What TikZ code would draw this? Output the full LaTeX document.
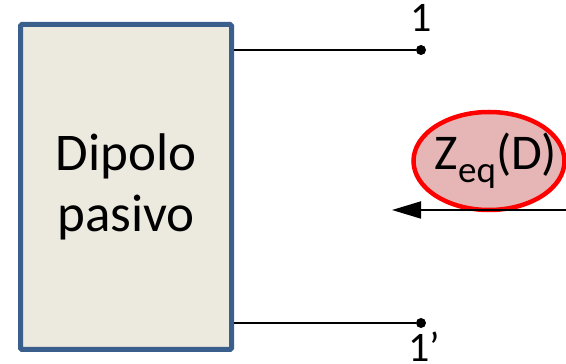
\documentclass[tikz,border=0pt]{standalone}
\usepackage{fontspec}
\setmainfont{Carlito}
\usetikzlibrary{shapes.geometric,arrows.meta}
\definecolor{boxblue}{HTML}{3A5F8C}
\definecolor{boxfill}{HTML}{ECE9DF}
\definecolor{ellred}{HTML}{FF0000}
\definecolor{ellfill}{HTML}{E6B5B5}
\tikzset{
  wire/.style={line width=1.8pt, black},
  terminal/.style={circle, fill=black, inner sep=0pt, minimum size=10pt},
  termlabel/.style={font=\fontsize{42}{46}\selectfont, inner sep=0pt},
}
\begin{document}
\begin{tikzpicture}[x=1pt,y=1pt]
\useasboundingbox (0,0) rectangle (566,364);
\node[draw=boxblue, fill=boxfill, line width=5pt, minimum width=211pt, minimum height=325pt,
  rounded corners=1.5pt, align=center, inner sep=0pt,
  font=\fontsize{53}{62}\selectfont] (box) at (126,177) {Dipolo\\[-1pt]pasivo};
\node[terminal] (t1) at (421,314) {};
\node[terminal] (t2) at (421,41) {};
\draw[wire] (box.east |- t1) -- (t1);
\draw[wire] (box.east |- t2) -- (t2);
\node[termlabel, anchor=base] (l1) at (421,332) {1};
\node[termlabel, anchor=base] (l2) at (424,2.5) {1’};
\path[draw=ellred, fill=ellfill, line width=4.5pt] (489,203) ellipse [x radius=75.5pt, y radius=49pt];
\node[inner sep=0pt, font=\fontsize{50}{54}\selectfont] (z) at (496,203)
  {Z\raisebox{-13pt}{\fontsize{37}{40}\selectfont eq}(D)};
\coordinate (as) at (566,154);
\coordinate (ae) at (392,154);
\draw[wire, -{Triangle[length=29pt, width=17pt]}] (as) -- (ae);
\end{tikzpicture}
\end{document}
